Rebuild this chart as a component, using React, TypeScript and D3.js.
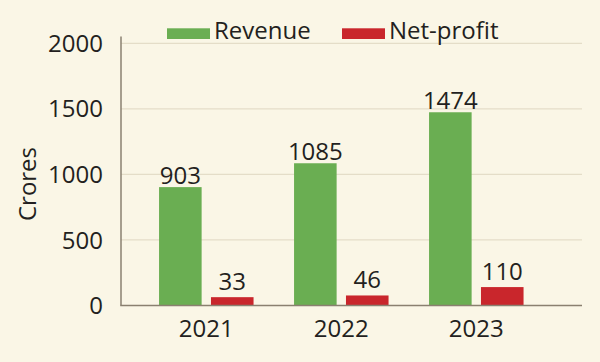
import React from 'react';
import * as d3 from 'd3';

const years = ['2021', '2022', '2023'];
const revenue = [903, 1085, 1474];
const netProfit = [33, 46, 110];
const yTicks = [0, 500, 1000, 1500, 2000];
const seriesNames = ['Revenue', 'Net-profit'];

const W = 600;
const H = 362;
const BG = '#faf6e6';
const GREEN = '#6aae52';
const RED = '#c9262c';
const INK = '#231f20';
const FONT = '"Open Sans", "Noto Sans", sans-serif';

export default function App() {
  const axisX = 121;
  const plotRight = 582;
  const y = d3.scaleLinear().domain([0, 2000]).range([305.5, 43.3]);
  const x = d3.scaleBand<string>().domain(years).range([138.8, 543.8])
    .paddingInner(0.3).paddingOuter(0.15);
  const inner = d3.scaleBand<string>().domain(seriesNames).range([0, x.bandwidth()])
    .paddingInner(0.18);
  const colors = d3.scaleOrdinal<string, string>().domain(seriesNames).range([GREEN, RED]);

  // small net-profit bars get a little lift so they stay visible, like the original
  const stub = 4;

  const rows = years.map((yr, i) => ({ yr, values: [revenue[i], netProfit[i]] }));

  return (
    <svg width={W} height={H} style={{ position: 'absolute', left: 0, top: 0 }} fontFamily={FONT}>
      <rect width={W} height={H} fill={BG} />

      {/* gridlines */}
      {yTicks.filter((t) => t > 0).map((t) => (
        <line key={t} x1={axisX} x2={plotRight} y1={y(t)} y2={y(t)} stroke="#e4ddc8" strokeWidth={1.2} />
      ))}

      {/* y tick labels */}
      {yTicks.map((t) => (
        <text key={t} x={103} y={y(t)} dy="0.36em" textAnchor="end" fontSize={24} fill={INK}>
          {t}
        </text>
      ))}

      <text transform="translate(36,184) rotate(-90)" textAnchor="middle" fontSize={24} fill={INK}>
        Crores
      </text>

      {/* bars */}
      {rows.map((r) => (
        <g key={r.yr} transform={`translate(${x(r.yr)},0)`}>
          {r.values.map((v, j) => {
            const name = seriesNames[j];
            const lift = j === 1 ? stub : 0;
            const top = y(v) - lift;
            return (
              <g key={name}>
                <rect x={inner(name)} y={top} width={inner.bandwidth()} height={y(0) - top + 0.5}
                  fill={colors(name)} />
                <text x={(inner(name) ?? 0) + inner.bandwidth() / 2} y={top - (j === 1 ? 7 : 3)}
                  textAnchor="middle" fontSize={24} fill={INK}>
                  {v}
                </text>
              </g>
            );
          })}
          <text x={x.bandwidth() / 2} y={337} textAnchor="middle" fontSize={24} fill={INK}>
            {r.yr}
          </text>
        </g>
      ))}

      {/* axes */}
      <line x1={axisX} x2={axisX} y1={36.5} y2={y(0)} stroke="#8a8070" strokeWidth={1.5} />
      <line x1={axisX - 0.75} x2={plotRight} y1={y(0)} y2={y(0)} stroke="#8a8070" strokeWidth={1.5} />

      {/* legend */}
      {seriesNames.map((name, i) => {
        const lx = [167, 342][i];
        return (
          <g key={name} transform={`translate(${lx},0)`}>
            <rect x={0} y={28.3} width={43} height={10.7} fill={colors(name)} />
            <text x={47} y={39} fontSize={24} fill={INK}>{name}</text>
          </g>
        );
      })}
    </svg>
  );
}
